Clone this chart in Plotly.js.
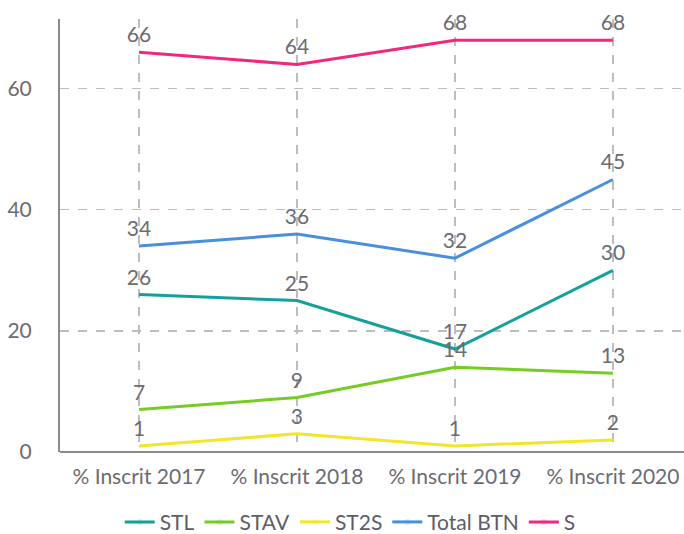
<!DOCTYPE html>
<html>
<head>
<meta charset="utf-8">
<script src="https://cdn.plot.ly/plotly-3.0.1.min.js"></script>
<style>html,body{margin:0;padding:0;background:#fff;}#chart{width:684px;height:534px;}</style>
</head>
<body>
<div id="chart"></div>
<script>
const categories = ["% Inscrit 2017", "% Inscrit 2018", "% Inscrit 2019", "% Inscrit 2020"];
const seriesNames = ["STL", "STAV", "ST2S", "Total BTN", "S"];
const STL = [26, 25, 17, 30];
const STAV = [7, 9, 14, 13];
const ST2S = [1, 3, 1, 2];
const TotalBTN = [34, 36, 32, 45];
const S = [66, 64, 68, 68];
const colors = ["#16a09b", "#76cc22", "#f2e52a", "#4a8fdc", "#f2287c"];

const values = [STL, STAV, ST2S, TotalBTN, S];
const traces = values.map((v, i) => ({
  type: "scatter",
  mode: "lines+markers+text",
  name: seriesNames[i],
  x: categories,
  y: v,
  text: v.map(String),
  textposition: "top center",
  cliponaxis: false,
  textfont: {family: "Lato, sans-serif", size: 21, color: "#6b6b73"},
  line: {color: colors[i], width: 3},
  marker: {size: 6, opacity: 0, color: colors[i]},
  hoverinfo: "x+y+name"
}));

const layout = {
  width: 684, height: 534,
  margin: {l: 60, r: 0, t: 19, b: 82},
  paper_bgcolor: "#fff", plot_bgcolor: "#fff",
  font: {family: "Lato, sans-serif", color: "#6b6b73"},
  showlegend: true,
  legend: {orientation: "h", xref: "container", x: 0.512, xanchor: "center", yref: "container", y: 0.022, yanchor: "middle",
           font: {size: 21, color: "#5d5d66"}, itemwidth: 30, tracegroupgap: 0},
  xaxis: {
    type: "category", range: [-0.5, 3.45],
    showgrid: true, gridcolor: "#bdbdbd", griddash: "dash", gridwidth: 1.3,
    showline: false, zeroline: false, ticks: "",
    tickfont: {size: 21, color: "#6b6b73"}, ticklabelstandoff: 10
  },
  yaxis: {
    range: [0, 71.5], tickvals: [0, 20, 40, 60],
    showgrid: true, gridcolor: "#bdbdbd", griddash: "dash", gridwidth: 1.3,
    showline: true, linecolor: "#8a8a8a", linewidth: 2,
    zeroline: true, zerolinecolor: "#8a8a8a", zerolinewidth: 2,
    ticks: "", tickfont: {size: 21, color: "#6b6b73"}, ticklabelstandoff: 22
  }
};

Plotly.newPlot("chart", traces, layout, {displayModeBar: false, staticPlot: true});
</script>
</body>
</html>
